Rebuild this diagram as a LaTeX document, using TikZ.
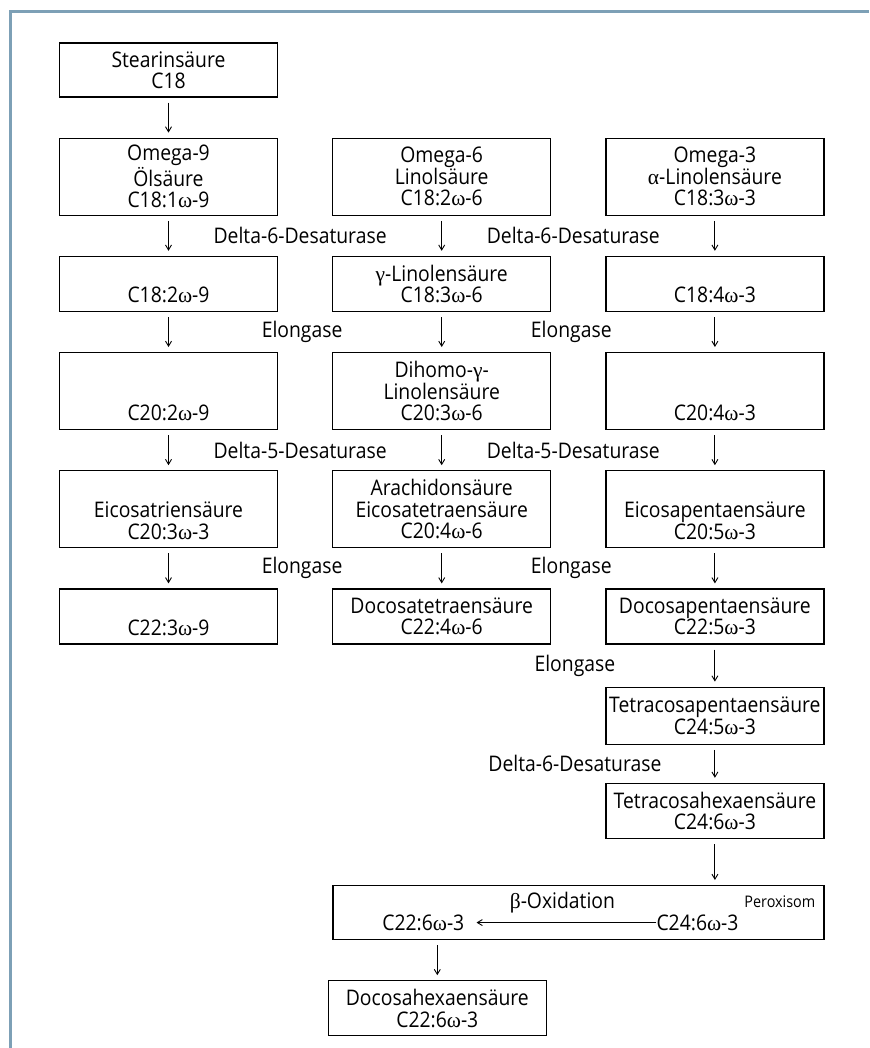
\documentclass[tikz,border=0pt]{standalone}
\usepackage{fontspec}
\setmainfont[FakeStretch=0.9]{Open Sans}
\newfontfamily\grk{Liberation Serif}
\usetikzlibrary{arrows.meta,positioning,calc}
\definecolor{rahmen}{RGB}{125,160,182}
\newcommand{\gr}[1]{{\grk #1}}
\newcommand{\om}{\gr{ω}}

\begin{document}
\begin{tikzpicture}[x=1pt,y=-1pt,font=\fontsize{21.5}{21.5}\selectfont,
   node distance=40pt and 54pt,
   stoff/.style={draw,line width=1.2pt,minimum width=218pt,align=center,inner sep=0pt},
   zwei/.style={stoff,minimum height=55pt},
   drei/.style={stoff,minimum height=77pt},
   pfeil/.style={-{Straight Barb[length=5pt,width=6pt]},line width=0.9pt,
                 shorten <=5pt,shorten >=5pt},
   enz/.style={inner sep=0pt}]
  \useasboundingbox (0,0) rectangle (869,1048);
  \draw[rahmen,line width=3pt] (10,1048) -- (10,12) -- (869,12);

  \node[zwei,minimum height=54pt] (st) at (168.5,70) {Stearinsäure\\C18};
  % Omega-9 / Omega-6 / Omega-3
  \node[drei,below=of st] (n1) {Omega-9\\Ölsäure\\C18:1\om-9};
  \node[drei,right=of n1] (s1) {Omega-6\\Linolsäure\\C18:2\om-6};
  \node[drei,right=of s1] (d1) {Omega-3\\\gr{α}-Linolensäure\\C18:3\om-3};
  \node[zwei,below=of n1] (n2) {\strut\\C18:2\om-9};
  \node[zwei,below=of s1] (s2) {\gr{γ}-Linolensäure\\C18:3\om-6};
  \node[zwei,below=of d1] (d2) {\strut\\C18:4\om-3};
  \node[drei,below=of n2] (n3) {\strut\\\strut\\C20:2\om-9};
  \node[drei,below=of s2] (s3) {Dihomo-\gr{γ}-\\Linolensäure\\C20:3\om-6};
  \node[drei,below=of d2] (d3) {\strut\\\strut\\C20:4\om-3};
  \node[drei,below=of n3] (n4) {\strut\\Eicosatriensäure\\C20:3\om-3};
  \node[drei,below=of s3] (s4) {Arachidonsäure\\Eicosatetraensäure\\C20:4\om-6};
  \node[drei,below=of d3] (d4) {\strut\\Eicosapentaensäure\\C20:5\om-3};
  \node[zwei,below=of n4] (n5) {\strut\\C22:3\om-9};
  \node[zwei,below=of s4] (s5) {Docosatetraensäure\\C22:4\om-6};
  \node[zwei,below=of d4] (d5) {Docosapentaensäure\\C22:5\om-3};
  \node[zwei,minimum height=57pt,below=42pt of d5] (d6) {Tetracosapentaensäure\\C24:5\om-3};
  \node[zwei,below=38pt of d6] (d7) {Tetracosahexaensäure\\C24:6\om-3};

  % Peroxisom
  \node[stoff,minimum width=491pt,minimum height=54pt,
        below=46pt of d7.south east,anchor=north east] (px) {};
  \node[anchor=base] (box) at ($(px.north)+(-16,23)$) {\gr{β}-Oxidation};
  \node[anchor=base east,enz,font=\fontsize{16}{16}\selectfont] (pxl)
       at ($(px.north east)+(-9,22)$) {Peroxisom};
  \node[anchor=base,enz] (c22) at ($(px.south west)+(91,-10)$) {C22:6\om-3};
  \node[anchor=base,enz] (c24) at ($(px.south east)+(-127,-10)$) {C24:6\om-3};
  \node[zwei,below=40pt of px.south west,xshift=105pt] (dh) {Docosahexaensäure\\C22:6\om-3};

  \foreach \a/\b in {st/n1,n1/n2,s1/s2,d1/d2,n2/n3,s2/s3,d2/d3,n3/n4,s3/s4,d3/d4,
                     n4/n5,s4/s5,d4/d5,d5/d6,d6/d7}
    \draw[pfeil] (\a.south) -- (\b.north);
  \draw[pfeil] (d7.south) -- (d7.south |- px.north);
  \draw[pfeil] (dh.north |- px.south) -- (dh.north);
  \draw[pfeil,shorten <=0pt,shorten >=12pt] (c24.west) -- (c22.east);

  % Enzyme
  \node[enz,xshift=-5pt] at ($(n1.south)!0.5!(s2.north)$) {Delta-6-Desaturase};
  \node[enz,xshift=-5pt] at ($(s1.south)!0.5!(d2.north)$) {Delta-6-Desaturase};
  \node[enz,xshift=-3pt] at ($(n2.south)!0.5!(s3.north)$) {Elongase};
  \node[enz,xshift=-7pt] at ($(s2.south)!0.5!(d3.north)$) {Elongase};
  \node[enz,xshift=-5pt] at ($(n3.south)!0.5!(s4.north)$) {Delta-5-Desaturase};
  \node[enz,xshift=-5pt] at ($(s3.south)!0.5!(d4.north)$) {Delta-5-Desaturase};
  \node[enz,xshift=-3pt] at ($(n4.south)!0.5!(s5.north)$) {Elongase};
  \node[enz,xshift=-7pt] at ($(s4.south)!0.5!(d5.north)$) {Elongase};
  \node[enz,xshift=-140pt] at ($(d5.south)!0.5!(d6.north)$) {Elongase};
  \node[enz,xshift=-140pt] at ($(d6.south)!0.5!(d7.north)$) {Delta-6-Desaturase};
\end{tikzpicture}
\end{document}
